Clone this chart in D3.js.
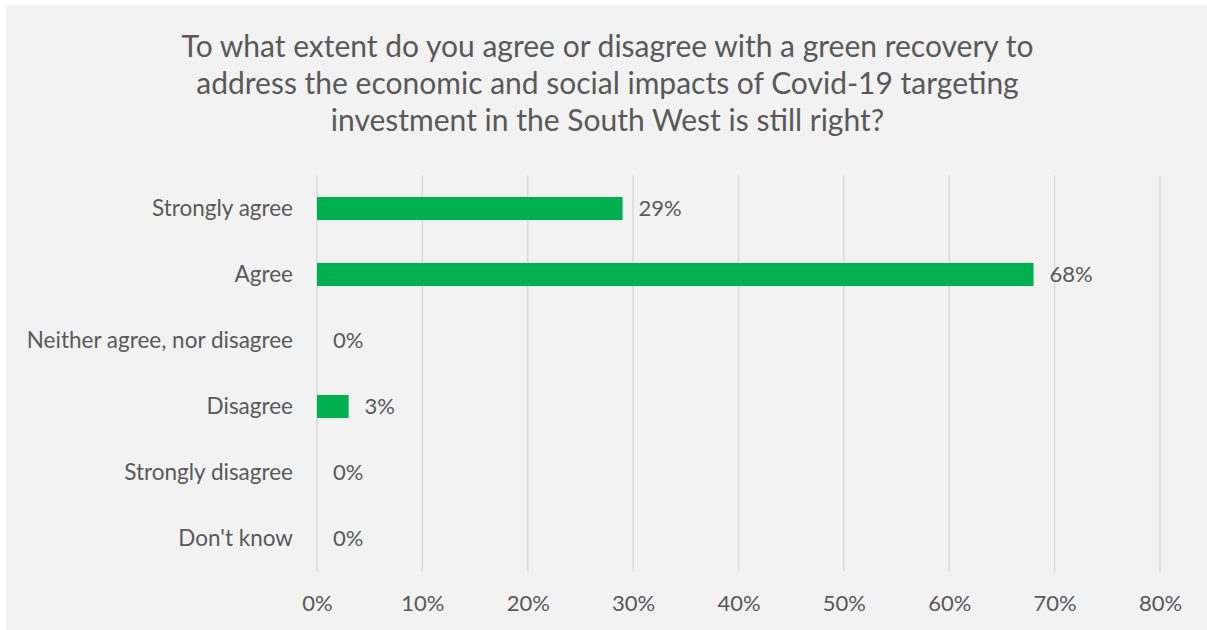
<!DOCTYPE html>
<html>
<head>
<meta charset="utf-8">
<script src="https://cdn.jsdelivr.net/npm/d3@7"></script>
<style>
  html, body { margin: 0; padding: 0; background: #ffffff; }
  svg { display: block; }
  text { font-family: Lato, "Open Sans", sans-serif; fill: #595959; }
</style>
</head>
<body>
<svg id="chart" width="1207" height="630"></svg>
<script>
// Survey responses (share of respondents)
const categories = ["Strongly agree", "Agree", "Neither agree, nor disagree", "Disagree", "Strongly disagree", "Don't know"];
const values = [0.29, 0.68, 0, 0.03, 0, 0];
const valueLabels = ["29%", "68%", "0%", "3%", "0%", "0%"];
const tickValues = [0, 0.1, 0.2, 0.3, 0.4, 0.5, 0.6, 0.7, 0.8];
const titleLines = [
  "To what extent do you agree or disagree with a green recovery to",
  "address the economic and social impacts of Covid-19 targeting",
  "investment in the South West is still right?"
];

const W = 1207, H = 630;
const plot = { left: 317, right: 1160, top: 175.5, bottom: 571.5 };

const svg = d3.select("#chart");

// panel background
svg.append("rect")
  .attr("x", 6).attr("y", 5)
  .attr("width", W - 6).attr("height", H - 5)
  .attr("fill", "#f2f2f2");

// title
const title = svg.append("text")
  .attr("text-anchor", "middle")
  .style("font-size", "30px");
titleLines.forEach((line, i) => {
  title.append("tspan")
    .attr("x", 607.5)
    .attr("y", 57 + i * 37)
    .text(line);
});

const x = d3.scaleLinear().domain([0, 0.8]).range([plot.left, plot.right]);
const y = d3.scaleBand().domain(categories).range([plot.top, plot.bottom]).paddingInner(0.65).paddingOuter(0.325);

// vertical gridlines
svg.append("g")
  .selectAll("line")
  .data(tickValues)
  .join("line")
  .attr("x1", d => x(d)).attr("x2", d => x(d))
  .attr("y1", plot.top).attr("y2", plot.bottom)
  .attr("stroke", "#d9d9d9")
  .attr("stroke-width", 1.5);

// x axis labels
const xAxis = d3.axisBottom(x)
  .tickValues(tickValues)
  .tickFormat(d3.format(".0%"))
  .tickSize(0)
  .tickPadding(0);
const gx = svg.append("g")
  .attr("transform", `translate(0,${plot.bottom})`)
  .call(xAxis);
gx.select(".domain").remove();
gx.selectAll("text")
  .attr("y", 39)
  .attr("dy", null)
  .style("font-size", "22px")
  .attr("fill", "#595959");

// y axis labels
const yAxis = d3.axisLeft(y).tickSize(0).tickPadding(0);
const gy = svg.append("g")
  .attr("transform", `translate(${plot.left - 24},0)`)
  .call(yAxis);
gy.select(".domain").remove();
gy.selectAll("text")
  .attr("dy", "0.35em")
  .style("font-size", "22.5px")
  .attr("fill", "#595959");

// bars
svg.append("g")
  .selectAll("rect")
  .data(categories)
  .join("rect")
  .attr("x", x(0))
  .attr("y", d => y(d))
  .attr("width", (d, i) => x(values[i]) - x(0))
  .attr("height", y.bandwidth())
  .attr("fill", "#00b050");

// value labels
svg.append("g")
  .selectAll("text")
  .data(categories)
  .join("text")
  .attr("x", (d, i) => x(values[i]) + 16)
  .attr("y", d => y(d) + y.bandwidth() / 2)
  .attr("dy", "0.35em")
  .style("font-size", "22px")
  .text((d, i) => valueLabels[i]);
</script>
</body>
</html>
